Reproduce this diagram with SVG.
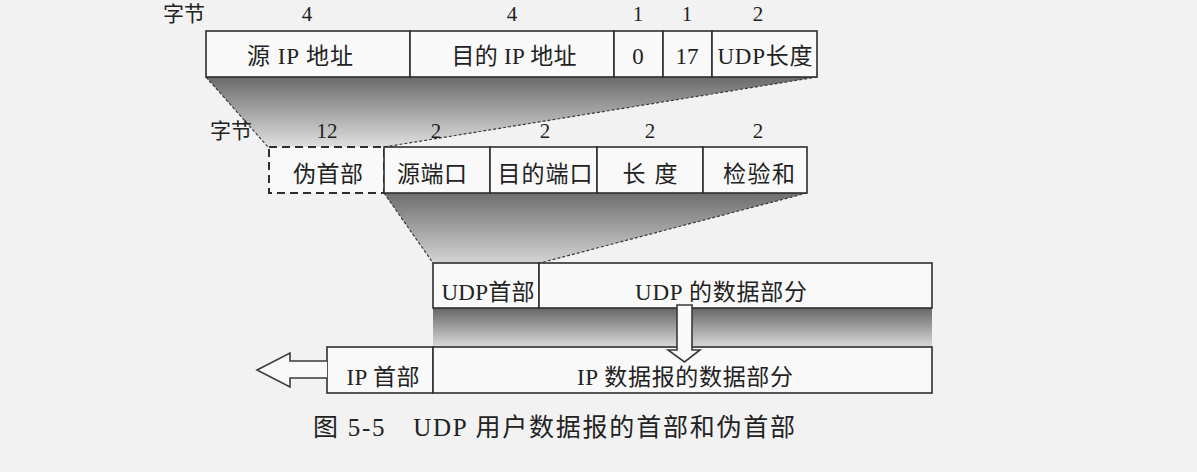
<svg xmlns="http://www.w3.org/2000/svg" width="1197" height="472" viewBox="0 0 1197 472">
  <defs>
    <style>
      .cell { fill: #f9f9f9; stroke: #2e2e2e; stroke-width: 1.6; }
      .dash { fill: #f9f9f9; stroke: #2e2e2e; stroke-width: 2; stroke-dasharray: 8 5; }
      .lbl { font-family: "Liberation Serif", "Noto Sans CJK SC", serif; font-size: 23px; fill: #222; text-anchor: middle; }
      .num { font-family: "Liberation Serif", "Noto Sans CJK SC", serif; font-size: 21px; fill: #222; text-anchor: middle; }
      .cap { font-family: "Liberation Serif", "Noto Sans CJK SC", serif; font-size: 25px; fill: #222; }
      .edge { fill: none; stroke: #3a3a3a; stroke-width: 1.2; stroke-dasharray: 3 2; }
      .hollow { fill: #f9f9f9; stroke: #3a3a3a; stroke-width: 1.6; stroke-linejoin: miter; }
    </style>
    <linearGradient id="shade1" x1="0" y1="0" x2="0" y2="1">
      <stop offset="0" stop-color="#6a6a6a"/>
      <stop offset="1" stop-color="#e0e0e0"/>
    </linearGradient>
    <linearGradient id="shade2" x1="0" y1="0" x2="0" y2="1">
      <stop offset="0" stop-color="#6e6e6e"/>
      <stop offset="1" stop-color="#d4d4d4"/>
    </linearGradient>
    <linearGradient id="shade3" x1="0" y1="0" x2="0" y2="1">
      <stop offset="0" stop-color="#666"/>
      <stop offset="1" stop-color="#dadada"/>
    </linearGradient>
  </defs>

  <rect width="1197" height="472" fill="#f2f2f2"/>

  <!-- projections between the layers -->
  <g id="connectors">
    <polygon points="206,77 817,77 384,147 268,147" fill="url(#shade1)"/>
    <path class="edge" d="M206,77 L268,147 M817,77 L384,147"/>
    <polygon points="384,193 807,193 540,263 433,263" fill="url(#shade2)"/>
    <path class="edge" d="M384,193 L433,263 M807,193 L540,263"/>
    <rect x="433" y="308" width="499" height="39" fill="url(#shade3)"/>
  </g>

  <!-- pseudo header fields -->
  <g id="pseudo-header">
    <text class="num" x="184" y="21">字节</text>
    <g id="src-ip">
      <rect class="cell" x="206" y="31" width="204" height="46"/>
      <text class="num" x="307" y="21">4</text>
      <text class="lbl" x="300" y="64" textLength="106" lengthAdjust="spacing">源 IP 地址</text>
    </g>
    <g id="dst-ip">
      <rect class="cell" x="410" y="31" width="204" height="46"/>
      <text class="num" x="512" y="21">4</text>
      <text class="lbl" x="514" y="64" textLength="125" lengthAdjust="spacing">目的 IP 地址</text>
    </g>
    <g id="zero">
      <rect class="cell" x="614" y="31" width="49" height="46"/>
      <text class="num" x="638" y="21">1</text>
      <text class="lbl" x="638" y="64">0</text>
    </g>
    <g id="proto">
      <rect class="cell" x="663" y="31" width="49" height="46"/>
      <text class="num" x="687" y="21">1</text>
      <text class="lbl" x="687" y="64">17</text>
    </g>
    <g id="udp-len">
      <rect class="cell" x="712" y="31" width="105" height="46"/>
      <text class="num" x="758" y="21">2</text>
      <text class="lbl" x="765" y="64" textLength="95" lengthAdjust="spacing">UDP长度</text>
    </g>
  </g>

  <!-- UDP header with pseudo header -->
  <g id="udp-header">
    <text class="num" x="231" y="138">字节</text>
    <g id="pseudo">
      <rect class="dash" x="269" y="147" width="115" height="46"/>
      <text class="num" x="327" y="138">12</text>
      <text class="lbl" x="328" y="182" textLength="70" lengthAdjust="spacing">伪首部</text>
    </g>
    <g id="src-port">
      <rect class="cell" x="384" y="147" width="106" height="46"/>
      <text class="num" x="436" y="138">2</text>
      <text class="lbl" x="432" y="182" textLength="70" lengthAdjust="spacing">源端口</text>
    </g>
    <g id="dst-port">
      <rect class="cell" x="490" y="147" width="107" height="46"/>
      <text class="num" x="545" y="138">2</text>
      <text class="lbl" x="545" y="182" textLength="95" lengthAdjust="spacing">目的端口</text>
    </g>
    <g id="length">
      <rect class="cell" x="597" y="147" width="106" height="46"/>
      <text class="num" x="650" y="138">2</text>
      <text class="lbl" x="650" y="182" textLength="55" lengthAdjust="spacing">长 度</text>
    </g>
    <g id="checksum">
      <rect class="cell" x="703" y="147" width="104" height="46"/>
      <text class="num" x="758" y="138">2</text>
      <text class="lbl" x="759" y="182" textLength="72" lengthAdjust="spacing">检验和</text>
    </g>
  </g>

  <!-- UDP datagram -->
  <g id="udp-datagram">
    <g id="udp-hdr">
      <rect class="cell" x="433" y="263" width="106" height="45"/>
      <text class="lbl" x="488" y="300" textLength="93" lengthAdjust="spacing">UDP首部</text>
    </g>
    <g id="udp-data">
      <rect class="cell" x="539" y="263" width="393" height="45"/>
    </g>
  </g>

  <!-- IP datagram -->
  <g id="ip-datagram">
    <g id="ip-hdr">
      <rect class="cell" x="327" y="347" width="106" height="46"/>
      <text class="lbl" x="383" y="385" textLength="73" lengthAdjust="spacing">IP 首部</text>
    </g>
    <g id="ip-data">
      <rect class="cell" x="433" y="347" width="499" height="46"/>
    </g>
  </g>

  <!-- hollow arrows -->
  <g id="arrows">
    <path class="hollow" d="M677,305 H692 V350 H700 L684.5,362 L668,350 H677 Z"/>
    <path class="hollow" d="M327,361 H290 V353 L257,370 L290,387 V378 H327"/>
  </g>

  <!-- labels drawn over the down arrow -->
  <text class="lbl" x="721" y="300" textLength="172" lengthAdjust="spacing">UDP 的数据部分</text>
  <text class="lbl" x="685" y="385" textLength="216" lengthAdjust="spacing">IP 数据报的数据部分</text>

  <text class="cap" x="313" y="436" textLength="482" lengthAdjust="spacing">图 5-5　UDP 用户数据报的首部和伪首部</text>
</svg>
